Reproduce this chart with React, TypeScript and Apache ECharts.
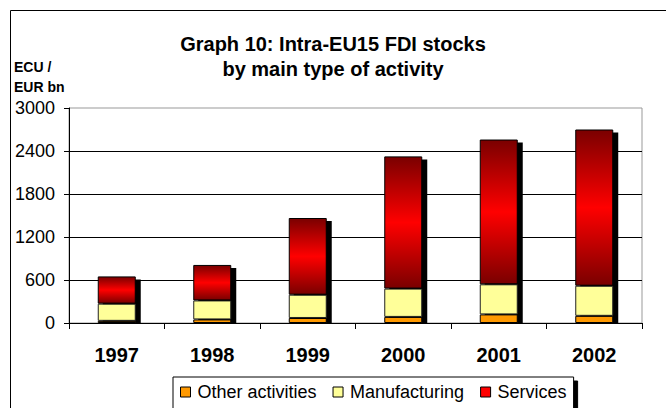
import React, { useEffect, useRef } from "react";
import * as echarts from "echarts";

const years = ["1997", "1998", "1999", "2000", "2001", "2002"];
const otherActivities = [30, 50, 70, 85, 120, 100];
const manufacturing = [240, 265, 325, 395, 420, 420];
const services = [380, 495, 1070, 1845, 2020, 2180];
const yTicks = { min: 0, max: 3000, interval: 600 };

const FONT = 'Arial, "Liberation Sans", sans-serif';
const BAR_W = 38;

export default function App() {
  const ref = useRef<HTMLDivElement>(null);

  useEffect(() => {
    if (!ref.current) return;
    const chart = echarts.init(ref.current, null, { renderer: "svg" });
    const totals = years.map((_, i) => otherActivities[i] + manufacturing[i] + services[i]);

    const redGradient = new echarts.graphic.LinearGradient(0, 0, 0, 1, [
      { offset: 0, color: "#7a0000" },
      { offset: 0.5, color: "#ff0000" },
      { offset: 1, color: "#7a0000" },
    ]);

    chart.setOption({
      animation: false,
      backgroundColor: "#fff",
      textStyle: { fontFamily: FONT },
      title: [
        {
          text: "Graph 10: Intra-EU15 FDI stocks\nby main type of activity",
          left: "center",
          top: 26,
          textStyle: { fontFamily: FONT, fontSize: 20, fontWeight: "bold", color: "#000", lineHeight: 25 },
        },
        {
          text: "ECU /\nEUR bn",
          left: 14,
          top: 57,
          padding: 0,
          textStyle: { fontFamily: FONT, fontSize: 14, fontWeight: "bold", color: "#000", lineHeight: 20 },
        },
      ],
      graphic: [
        {
          type: "rect",
          shape: { x: 10.5, y: 10.5, width: 700, height: 500 },
          style: { fill: "none", stroke: "#000", lineWidth: 1 },
          silent: true,
          z: -10,
        },
      ],
      grid: {
        left: 69,
        right: 24,
        top: 108,
        bottom: 85,
        show: true,
        borderColor: "#999",
        borderWidth: 1,
      },
      legend: {
        left: 173,
        top: 377,
        padding: [6, 7, 8, 7],
        itemGap: 16,
        itemWidth: 10,
        itemHeight: 10,
        borderColor: "#000",
        borderWidth: 1,
        backgroundColor: "#fff",
        shadowColor: "#000",
        shadowBlur: 0,
        shadowOffsetX: 4,
        shadowOffsetY: 4,
        textStyle: { fontFamily: FONT, fontSize: 18, color: "#000", padding: [0, 0, 0, 2] },
        data: [
          { name: "Other activities", icon: "rect", itemStyle: { color: "#ff9900", borderColor: "#000", borderWidth: 1 } },
          { name: "Manufacturing", icon: "rect", itemStyle: { color: "#ffff99", borderColor: "#000", borderWidth: 1 } },
          { name: "Services", icon: "rect", itemStyle: { color: "#ff0000", borderColor: "#000", borderWidth: 1 } },
        ],
      },
      xAxis: {
        type: "category",
        data: years,
        axisLine: { lineStyle: { color: "#000", width: 1 } },
        axisTick: { show: true, alignWithLabel: false, length: 6, lineStyle: { color: "#000" } },
        axisLabel: { fontFamily: FONT, fontSize: 20, fontWeight: "bold", color: "#000", margin: 22 },
        splitLine: { show: false },
      },
      yAxis: {
        type: "value",
        min: yTicks.min,
        max: yTicks.max,
        interval: yTicks.interval,
        axisLine: { show: true, lineStyle: { color: "#000", width: 1 } },
        axisTick: { show: true, length: 5, lineStyle: { color: "#000" } },
        axisLabel: {
          fontFamily: FONT,
          fontSize: 18,
          color: "#000",
          margin: 14,
          formatter: (v: number) => String(v),
        },
        splitLine: { show: true, showMinLine: false, showMaxLine: false, lineStyle: { color: "#000", width: 1 } },
      },
      series: [
        {
          type: "custom",
          name: "shadow",
          z: 1,
          silent: true,
          data: years.map((_, i) => [i, totals[i]]),
          renderItem: (params: any, api: any) => {
            const top = api.coord([api.value(0), api.value(1)]);
            const base = api.coord([api.value(0), 0]);
            return {
              type: "rect",
              shape: { x: top[0] - BAR_W / 2 + 5, y: top[1] + 3, width: BAR_W, height: base[1] - top[1] - 3 },
              style: { fill: "#000" },
            };
          },
        },
        {
          type: "bar",
          name: "Other activities",
          stack: "total",
          barWidth: BAR_W,
          z: 3,
          data: otherActivities,
          itemStyle: { color: "#ff9900", borderColor: "#000", borderWidth: 1 },
        },
        {
          type: "bar",
          name: "Manufacturing",
          stack: "total",
          barWidth: BAR_W,
          z: 3,
          data: manufacturing,
          itemStyle: { color: "#ffff99", borderColor: "#222", borderWidth: 1 },
        },
        {
          type: "bar",
          name: "Services",
          stack: "total",
          barWidth: BAR_W,
          z: 3,
          data: services,
          itemStyle: { color: redGradient, borderColor: "#000", borderWidth: 1 },
        },
      ],
    });

    return () => chart.dispose();
  }, []);

  return (
    <div
      ref={ref}
      style={{ position: "fixed", left: 0, top: 0, width: 666, height: 408, background: "#fff" }}
    />
  );
}
